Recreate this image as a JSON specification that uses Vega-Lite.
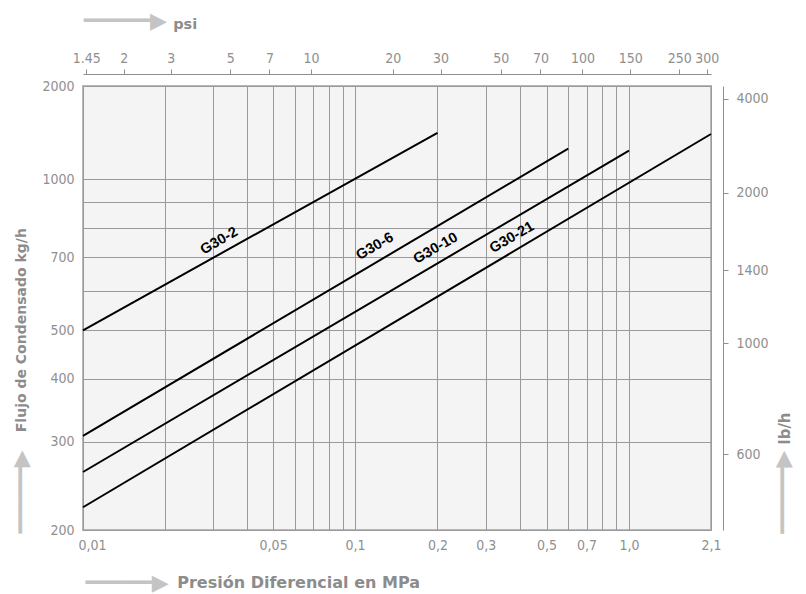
{
  "$schema": "https://vega.github.io/schema/vega-lite/v6.json",
  "width": 628,
  "height": 444,
  "autosize": {"type": "none"},
  "padding": {"left": 83, "top": 86, "right": 95, "bottom": 64},
  "background": "white",
  "config": {
    "view": {"fill": "#f4f4f4", "stroke": "#b8b8b8", "strokeWidth": 2},
    "axis": {
      "labelFont": "DejaVu Sans Condensed, sans-serif",
      "labelFontSize": 14,
      "labelColor": "#8f8f8f",
      "titleFont": "DejaVu Sans",
      "titleFontWeight": "bold",
      "titleColor": "#8c8c8c",
      "domainColor": "#8f8f8f",
      "tickColor": "#8f8f8f",
      "gridColor": "#9a9a9a",
      "gridWidth": 1,
      "gridOpacity": 1,
      "labelOverlap": false,
      "labelBound": false,
      "labelFlush": false
    }
  },
  "datasets": {
    "curves": [
      {"series": "G30-2", "mpa": 0.01, "kg": 500},
      {"series": "G30-2", "mpa": 0.2, "kg": 1413},
      {"series": "G30-6", "mpa": 0.01, "kg": 308},
      {"series": "G30-6", "mpa": 0.6, "kg": 1255},
      {"series": "G30-10", "mpa": 0.01, "kg": 261},
      {"series": "G30-10", "mpa": 1.0, "kg": 1237},
      {"series": "G30-21", "mpa": 0.01, "kg": 222},
      {"series": "G30-21", "mpa": 2.1, "kg": 1400}
    ],
    "labels": [
      {"series": "G30-2", "mpa": 0.0317, "kg": 753},
      {"series": "G30-6", "mpa": 0.1183, "kg": 734},
      {"series": "G30-10", "mpa": 0.197, "kg": 728},
      {"series": "G30-21", "mpa": 0.374, "kg": 765}
    ],
    "psi_ticks": [
      {"psi": 1.45}, {"psi": 2}, {"psi": 3}, {"psi": 5}, {"psi": 7},
      {"psi": 10}, {"psi": 20}, {"psi": 30}, {"psi": 50}, {"psi": 70},
      {"psi": 100}, {"psi": 150}, {"psi": 250}, {"psi": 300}
    ],
    "lb_ticks": [
      {"lb": 600}, {"lb": 1000}, {"lb": 1400}, {"lb": 2000}, {"lb": 4000}
    ]
  },
  "layer": [
    {
      "layer": [
        {
          "data": {"name": "curves"},
          "mark": {"type": "line", "color": "black", "strokeWidth": 2},
          "encoding": {
            "x": {
              "field": "mpa",
              "type": "quantitative",
              "scale": {"type": "log", "domain": [0.01, 0.1, 1, 2.1], "range": [0, 272, 546, 628], "nice": false},
              "axis": {
                "orient": "bottom",
                "values": [0.01, 0.02, 0.03, 0.04, 0.05, 0.06, 0.07, 0.08, 0.09, 0.1, 0.2, 0.3, 0.4, 0.5, 0.6, 0.7, 0.8, 0.9, 1, 2.1],
                "labelExpr": "indexof([0.01,0.05,0.1,0.2,0.3,0.5,0.7,1,2.1], datum.value) < 0 ? '' : (datum.value == 1 ? '1,0' : replace(toString(datum.value), '.', ','))",
                "labelAlign": {"condition": {"test": "datum.value <= 0.01", "value": "left"}, "value": "center"},
                "labelOffset": {"condition": {"test": "datum.value <= 0.01", "value": -5}, "value": 0},
                "grid": true,
                "ticks": false,
                "domain": false,
                "labelPadding": 8,
                "title": "Presión Diferencial en MPa",
                "titleFontSize": 16,
                "titleAlign": "left",
                "titleBaseline": "middle",
                "titleX": 93.7,
                "titleY": 52
              }
            },
            "y": {
              "field": "kg",
              "type": "quantitative",
              "scale": {"type": "log", "domain": [200, 1000, 2000], "range": [444, 93.3, 0], "nice": false},
              "axis": {
                "orient": "left",
                "values": [200, 300, 400, 500, 600, 700, 800, 900, 1000, 2000],
                "labelExpr": "indexof([600,800,900], datum.value) >= 0 ? '' : toString(datum.value)",
                "grid": true,
                "ticks": false,
                "domain": false,
                "labelPadding": 9,
                "title": "Flujo de Condensado kg/h",
                "titleFontSize": 14,
                "titleAngle": 270,
                "titleAlign": "left",
                "titleBaseline": "middle",
                "titleX": -61.5,
                "titleY": 345.7
              }
            },
            "detail": {"field": "series"}
          }
        },
        {
          "data": {"name": "labels"},
          "mark": {"type": "text", "angle": 330, "font": "Liberation Sans", "fontWeight": "bold", "fontSize": 14.5, "color": "black", "align": "center", "baseline": "middle"},
          "encoding": {
            "x": {"field": "mpa", "type": "quantitative"},
            "y": {"field": "kg", "type": "quantitative"},
            "text": {"field": "series"}
          }
        }
      ]
    },
    {
      "data": {"name": "psi_ticks"},
      "mark": {"type": "point", "opacity": 0},
      "encoding": {
        "x": {
          "field": "psi",
          "type": "quantitative",
          "scale": {"type": "log", "domain": [1.41, 10, 150, 250, 308.6], "range": [0, 228, 547.3, 596.3, 628], "nice": false},
          "axis": {
            "orient": "top",
            "offset": 12,
            "values": [1.45, 2, 3, 5, 7, 10, 20, 30, 50, 70, 100, 150, 250, 300],
            "labelExpr": "toString(datum.value)",
            "grid": false,
            "domain": true,
            "ticks": true,
            "tickSize": 5,
            "labelPadding": 4,
            "title": "psi",
            "titleFontSize": 14.5,
            "titleAlign": "left",
            "titleBaseline": "middle",
            "titleX": 89.7,
            "titleY": -50
          }
        }
      }
    },
    {
      "data": {"name": "lb_ticks"},
      "mark": {"type": "point", "opacity": 0},
      "encoding": {
        "y": {
          "field": "lb",
          "type": "quantitative",
          "scale": {"type": "log", "domain": [423, 2000, 4388], "range": [444, 106.6, 0], "nice": false},
          "axis": {
            "orient": "right",
            "offset": 12,
            "values": [600, 1000, 1400, 2000, 4000],
            "labelExpr": "toString(datum.value)",
            "grid": false,
            "domain": true,
            "ticks": true,
            "tickSize": 5,
            "labelPadding": 8,
            "title": "lb/h",
            "titleFontSize": 15,
            "titleAngle": 270,
            "titleAlign": "left",
            "titleBaseline": "middle",
            "titleX": 61,
            "titleY": 358
          }
        }
      }
    },
    {
      "data": {"name": "curves"},
      "mark": {"type": "point", "opacity": 0},
      "encoding": {
        "x": {
          "field": "mpa",
          "type": "quantitative",
          "scale": {"type": "log", "nice": false},
          "axis": {
            "orient": "bottom",
            "labels": false, "ticks": false, "domain": false, "grid": false,
            "title": "━━━━━▶",
            "titleFont": "DejaVu Sans",
            "titleFontWeight": "normal",
            "titleFontSize": 22,
            "titleColor": "#c4c4c4",
            "titleAlign": "left",
            "titleBaseline": "middle",
            "titleX": 2,
            "titleY": 52
          }
        },
        "y": {
          "field": "kg",
          "type": "quantitative",
          "scale": {"type": "log", "nice": false},
          "axis": {
            "orient": "left",
            "labels": false, "ticks": false, "domain": false, "grid": false,
            "title": "━━━━━▶",
            "titleFont": "DejaVu Sans",
            "titleFontWeight": "normal",
            "titleFontSize": 22,
            "titleColor": "#c4c4c4",
            "titleAngle": 270,
            "titleAlign": "left",
            "titleBaseline": "middle",
            "titleX": -62.5,
            "titleY": 447
          }
        }
      }
    },
    {
      "data": {"name": "curves"},
      "mark": {"type": "point", "opacity": 0},
      "encoding": {
        "x": {
          "field": "mpa",
          "type": "quantitative",
          "scale": {"type": "log", "nice": false},
          "axis": {
            "orient": "top",
            "labels": false, "ticks": false, "domain": false, "grid": false,
            "title": "━━━━━▶",
            "titleFont": "DejaVu Sans",
            "titleFontWeight": "normal",
            "titleFontSize": 22,
            "titleColor": "#c4c4c4",
            "titleAlign": "left",
            "titleBaseline": "middle",
            "titleX": 0.3,
            "titleY": -65.3
          }
        },
        "y": {
          "field": "kg",
          "type": "quantitative",
          "scale": {"type": "log", "nice": false},
          "axis": {
            "orient": "right",
            "labels": false, "ticks": false, "domain": false, "grid": false,
            "title": "━━━━━▶",
            "titleFont": "DejaVu Sans",
            "titleFontWeight": "normal",
            "titleFontSize": 22,
            "titleColor": "#c4c4c4",
            "titleAngle": 270,
            "titleAlign": "left",
            "titleBaseline": "middle",
            "titleX": 71.7,
            "titleY": 447.3
          }
        }
      }
    }
  ],
  "resolve": {"scale": {"x": "independent", "y": "independent"}}
}
